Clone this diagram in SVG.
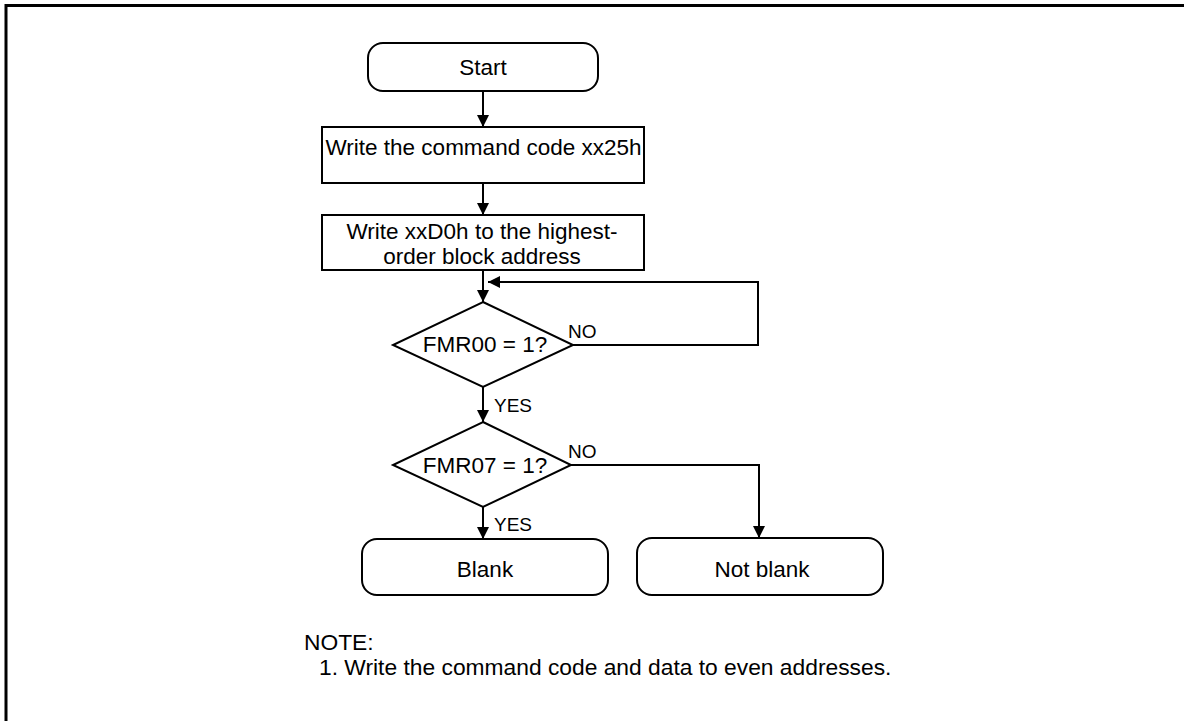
<svg xmlns="http://www.w3.org/2000/svg" width="1184" height="721" viewBox="0 0 1184 721">
<defs>
<style>
.shape{fill:#fff;stroke:#000;stroke-width:2}
.conn{fill:none;stroke:#000;stroke-width:2}
.t{font-family:"Liberation Sans",Arial,sans-serif;font-size:22.5px;fill:#000}
.m{text-anchor:middle}
.lbl{font-family:"Liberation Sans",Arial,sans-serif;font-size:19px;fill:#000}
.note{font-family:"Liberation Sans",Arial,sans-serif;font-size:22.8px;fill:#000}
</style>
<marker id="ah" viewBox="0 0 12 12" refX="12" refY="6" markerWidth="12" markerHeight="12" markerUnits="userSpaceOnUse" orient="auto">
<path d="M0,0 L12,6 L0,12 Z" fill="#000"/>
</marker>
</defs>
<rect width="1184" height="721" fill="#fff"/>
<path d="M6,721 V5.5 H1184" fill="none" stroke="#000" stroke-width="3"/>
<g id="connectors">
<path class="conn" d="M483,91 V127" marker-end="url(#ah)"/>
<path class="conn" d="M483,183 V215" marker-end="url(#ah)"/>
<path class="conn" d="M483,270 V302" marker-end="url(#ah)"/>
<path class="conn" d="M573,345 H758 V282 H488" marker-end="url(#ah)"/>
<path class="conn" d="M483,387 V422" marker-end="url(#ah)"/>
<path class="conn" d="M483,507 V539" marker-end="url(#ah)"/>
<path class="conn" d="M571,465 H759 V538" marker-end="url(#ah)"/>
<text class="lbl" x="568" y="338">NO</text>
<text class="lbl" x="494" y="412">YES</text>
<text class="lbl" x="568" y="458">NO</text>
<text class="lbl" x="494" y="531">YES</text>
</g>
<g id="start">
<rect class="shape" x="368" y="43" width="230" height="48" rx="15"/>
<text class="t m" x="483" y="75">Start</text>
</g>
<g id="write-command">
<rect class="shape" x="322" y="127" width="322" height="56"/>
<text class="t m" x="483.5" y="155">Write the command code xx25h</text>
</g>
<g id="write-d0">
<rect class="shape" x="322" y="215" width="322" height="55"/>
<text class="t m" x="482" y="239">Write xxD0h to the highest-</text>
<text class="t m" x="482" y="264">order block address</text>
</g>
<g id="fmr00">
<polygon class="shape" points="483,302 573,345 483,387 393,345"/>
<text class="t m" x="485" y="352">FMR00 = 1?</text>
</g>
<g id="fmr07">
<polygon class="shape" points="483,422 571,465 483,507 393,465"/>
<text class="t m" x="485" y="473">FMR07 = 1?</text>
</g>
<g id="blank">
<rect class="shape" x="362" y="539" width="246" height="56" rx="15"/>
<text class="t m" x="485" y="577">Blank</text>
</g>
<g id="not-blank">
<rect class="shape" x="637" y="538" width="246" height="57" rx="15"/>
<text class="t m" x="762" y="577">Not blank</text>
</g>
<g id="note">
<text class="note" x="304" y="650">NOTE:</text>
<text class="note" x="319" y="675">1. Write the command code and data to even addresses.</text>
</g>
</svg>
